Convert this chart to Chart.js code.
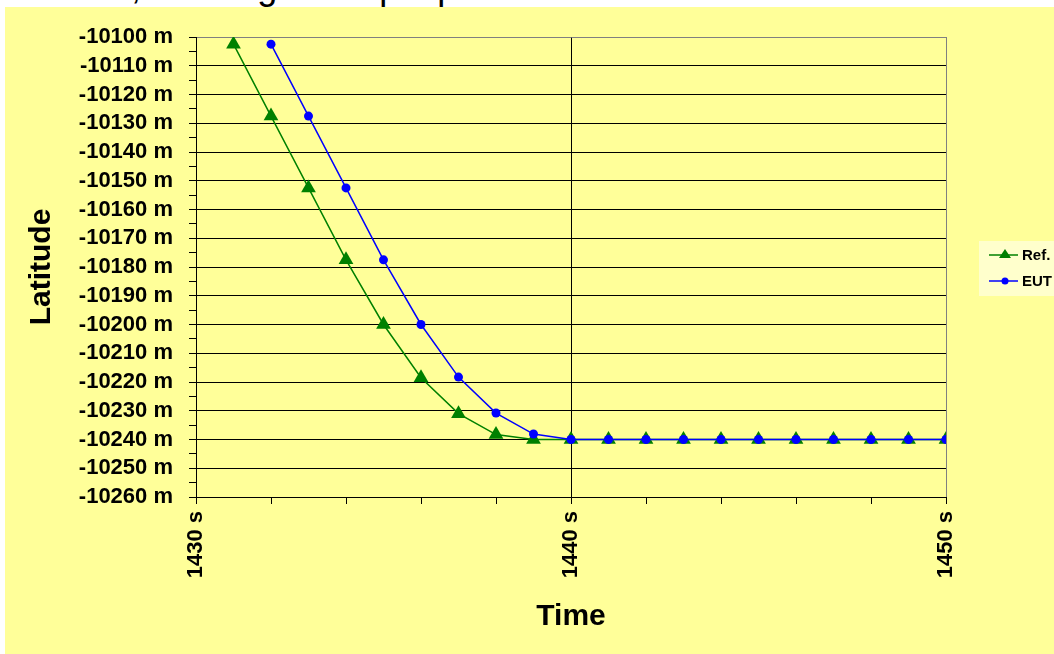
<!DOCTYPE html>
<html>
<head>
<meta charset="utf-8">
<script src="https://cdn.jsdelivr.net/npm/chart.js@4"></script>
<style>
  html, body { margin: 0; padding: 0; background: #fff; overflow: hidden; }
  #title {
    position: absolute; left: 3px; top: -31px; white-space: nowrap;
    font: 36px Arial, "Liberation Sans", sans-serif; line-height: 36px; color: #000;
  }
  #wrap { position: absolute; left: 5px; top: 7px; width: 1049px; height: 647px; background: #ffff99; }
</style>
</head>
<body>
<div id="title">Latitude, tracking a ramp input</div>
<div id="wrap"><canvas id="chart" width="1049" height="647"></canvas></div>
<script>
// Time axis (s)
const times = [1431, 1432, 1433, 1434, 1435, 1436, 1437, 1438, 1439, 1440,
               1441, 1442, 1443, 1444, 1445, 1446, 1447, 1448, 1449, 1450];

// Latitude (m)
const refValues = [-10102.5, -10127.5, -10152.5, -10177.5, -10200, -10218.5, -10231, -10238.3, -10240, -10240,
                   -10240, -10240, -10240, -10240, -10240, -10240, -10240, -10240, -10240, -10240];
const eutValues = [null, -10102.5, -10127.5, -10152.5, -10177.5, -10200, -10218.3, -10230.8, -10238.1, -10240,
                   -10240, -10240, -10240, -10240, -10240, -10240, -10240, -10240, -10240, -10240];

const seriesNames = ['Ref.', 'EUT'];
const seriesColors = ['#008000', '#0000ff'];

const FONT = 'Arial, "Liberation Sans", sans-serif';

// Legend drawn in the small box at the right, like the original
const sideLegend = {
  id: 'sideLegend',
  afterDraw(chart) {
    const ctx = chart.ctx;
    ctx.save();
    ctx.fillStyle = '#ffffcc';
    ctx.fillRect(974, 234, 80, 55);
    const rows = [
      { y: 248, color: seriesColors[0], name: seriesNames[0], style: 'triangle' },
      { y: 274, color: seriesColors[1], name: seriesNames[1], style: 'circle' }
    ];
    rows.forEach(r => {
      ctx.strokeStyle = r.color;
      ctx.lineWidth = 1.5;
      ctx.beginPath();
      ctx.moveTo(984, r.y);
      ctx.lineTo(1013, r.y);
      ctx.stroke();
      ctx.fillStyle = r.color;
      ctx.beginPath();
      if (r.style === 'triangle') {
        ctx.moveTo(1000, r.y - 6);
        ctx.lineTo(1006, r.y + 3);
        ctx.lineTo(994, r.y + 3);
        ctx.closePath();
      } else {
        ctx.arc(1000, r.y, 3.5, 0, Math.PI * 2);
      }
      ctx.fill();
      ctx.fillStyle = '#000';
      ctx.font = 'bold 15px ' + FONT;
      ctx.textBaseline = 'middle';
      ctx.fillText(r.name, 1017, r.y + 1);
    });
    ctx.restore();
  }
};

new Chart(document.getElementById('chart'), {
  type: 'line',
  data: {
    datasets: [
      {
        label: seriesNames[0],
        data: times.map((t, i) => ({ x: t, y: refValues[i] })),
        borderColor: seriesColors[0],
        backgroundColor: seriesColors[0],
        borderWidth: 1.5,
        pointStyle: 'triangle',
        pointRadius: 8.5,
        pointBorderWidth: 0,
        tension: 0,
        order: 1
      },
      {
        label: seriesNames[1],
        data: times.map((t, i) => ({ x: t, y: eutValues[i] })),
        borderColor: seriesColors[1],
        backgroundColor: seriesColors[1],
        borderWidth: 1.5,
        pointStyle: 'circle',
        pointRadius: 4.5,
        pointBorderWidth: 0,
        tension: 0,
        spanGaps: false,
        order: 0
      }
    ]
  },
  options: {
    responsive: false,
    animation: false,
    layout: { padding: { top: 30, right: 108, left: 0, bottom: 0 } },
    plugins: {
      legend: { display: false },
      tooltip: { enabled: false }
    },
    scales: {
      x: {
        type: 'linear',
        min: 1430,
        max: 1450,
        afterFit(scale) { scale.height = 157; },
        ticks: {
          stepSize: 2,
          autoSkip: false,
          minRotation: 90,
          maxRotation: 90,
          padding: 7,
          color: '#000',
          font: { family: FONT, size: 22, weight: 'bold' },
          callback: v => (Math.round(v) % 10 === 0 ? Math.round(v) + ' s' : '')
        },
        grid: {
          color: c => {
            const v = c.tick ? Math.round(c.tick.value) : 0;
            if (v === 1450) return '#808080';
            if (v === 1440) return '#000';
            return 'rgba(0,0,0,0)';
          },
          tickColor: '#000',
          tickLength: 7,
          lineWidth: 1
        },
        border: { color: '#000', width: 1 },
        title: {
          display: true,
          text: 'Time',
          color: '#000',
          font: { family: FONT, size: 30, weight: 'bold' },
          padding: { top: 0, bottom: 19 }
        }
      },
      y: {
        type: 'linear',
        min: -10260,
        max: -10100,
        afterFit(scale) { scale.width = 191; },
        ticks: {
          stepSize: 5,
          autoSkip: false,
          padding: 16,
          color: '#000',
          font: { family: FONT, size: 22, weight: 'bold' },
          callback: v => (Math.round(v) % 10 === 0 ? Math.round(v) + ' m' : '')
        },
        grid: {
          color: c => {
            const v = c.tick ? Math.round(c.tick.value) : 0;
            if (v % 10 !== 0) return 'rgba(0,0,0,0)';
            if (v === -10100) return '#808080';
            return '#000';
          },
          tickColor: '#000',
          tickLength: 7,
          lineWidth: 1
        },
        border: { color: '#000', width: 1 },
        title: {
          display: true,
          text: 'Latitude',
          color: '#000',
          font: { family: FONT, size: 30, weight: 'bold' },
          padding: { top: 19, bottom: 0 }
        }
      }
    }
  },
  plugins: [sideLegend]
});
</script>
</body>
</html>
